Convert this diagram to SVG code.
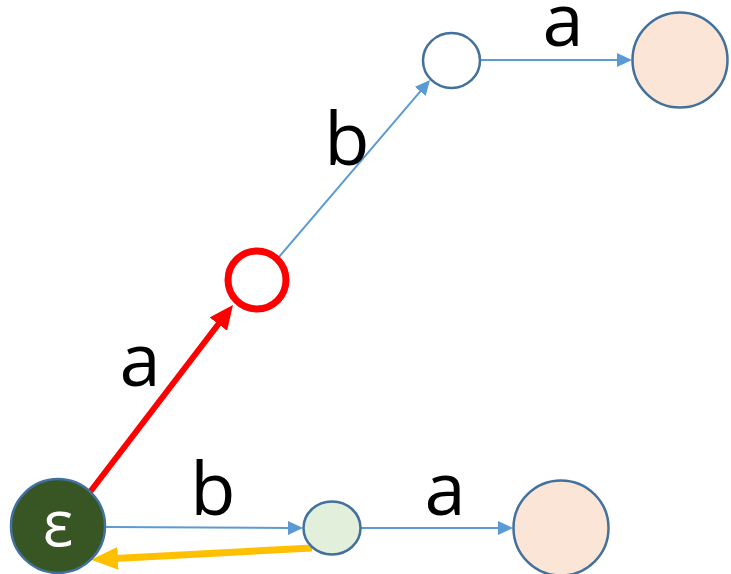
<svg xmlns="http://www.w3.org/2000/svg" width="731" height="574" viewBox="0 0 731 574">
<style>
.node{stroke:#41719C;stroke-width:2.5}
.lbl{font-family:"Open Sans","Liberation Sans",sans-serif;font-size:74px;fill:#000;text-anchor:middle}
.blue{stroke:#5B9BD5;stroke-width:2;fill:none}
</style>
<defs>
<marker id="ab" markerUnits="userSpaceOnUse" markerWidth="16" markerHeight="14" refX="2" refY="7" orient="auto"><path d="M0,0 L15,7 L0,14 z" fill="#5B9BD5"/></marker>
<marker id="ar" markerUnits="userSpaceOnUse" markerWidth="25" markerHeight="22" refX="3" refY="11" orient="auto"><path d="M0,0 L24,11 L0,22 z" fill="#FF0000"/></marker>
<marker id="ay" markerUnits="userSpaceOnUse" markerWidth="28" markerHeight="23" refX="3" refY="11.5" orient="auto"><path d="M0,0 L27,11.5 L0,23 z" fill="#FFC000"/></marker>
</defs>
<rect width="731" height="574" fill="#fff"/>
<g id="connectors">
<line class="blue" x1="106" y1="527" x2="290" y2="528" marker-end="url(#ab)"/>
<line class="blue" x1="361" y1="528" x2="500" y2="528" marker-end="url(#ab)"/>
<line class="blue" x1="480" y1="60" x2="619" y2="60" marker-end="url(#ab)"/>
<line class="blue" x1="279" y1="257" x2="421.6" y2="89.9" marker-end="url(#ab)"/>
<line x1="90" y1="492" x2="220.2" y2="321.7" stroke="#FF0000" stroke-width="6" marker-end="url(#ar)"/>
<line x1="312" y1="548" x2="115" y2="558.5" stroke="#FFC000" stroke-width="7" marker-end="url(#ay)"/>
</g>
<g id="labels">
<text class="lbl" x="140" y="386">a</text>
<text class="lbl" x="347" y="165">b</text>
<text class="lbl" x="563" y="46">a</text>
<text class="lbl" x="213" y="515">b</text>
<text class="lbl" x="445" y="515">a</text>
</g>
<g id="n-eps">
<circle class="node" cx="58" cy="526" r="47" fill="#375623"/>
<text x="58" y="546" font-family="'Open Sans','Liberation Sans',sans-serif" font-size="64" fill="#fff" text-anchor="middle">ε</text>
</g>
<g id="n-red"><circle cx="257" cy="280" r="29" fill="#fff" stroke="#FF0000" stroke-width="7"/></g>
<g id="n-top"><ellipse class="node" cx="451.5" cy="60.5" rx="28.5" ry="27.5" fill="#fff"/></g>
<g id="n-topfinal"><circle class="node" cx="680" cy="60" r="47.5" fill="#FBE5D6"/></g>
<g id="n-green"><ellipse class="node" cx="332" cy="528" rx="28.5" ry="26.5" fill="#E2EFDA"/></g>
<g id="n-botfinal"><circle class="node" cx="561" cy="528" r="47.5" fill="#FBE5D6"/></g>
</svg>
